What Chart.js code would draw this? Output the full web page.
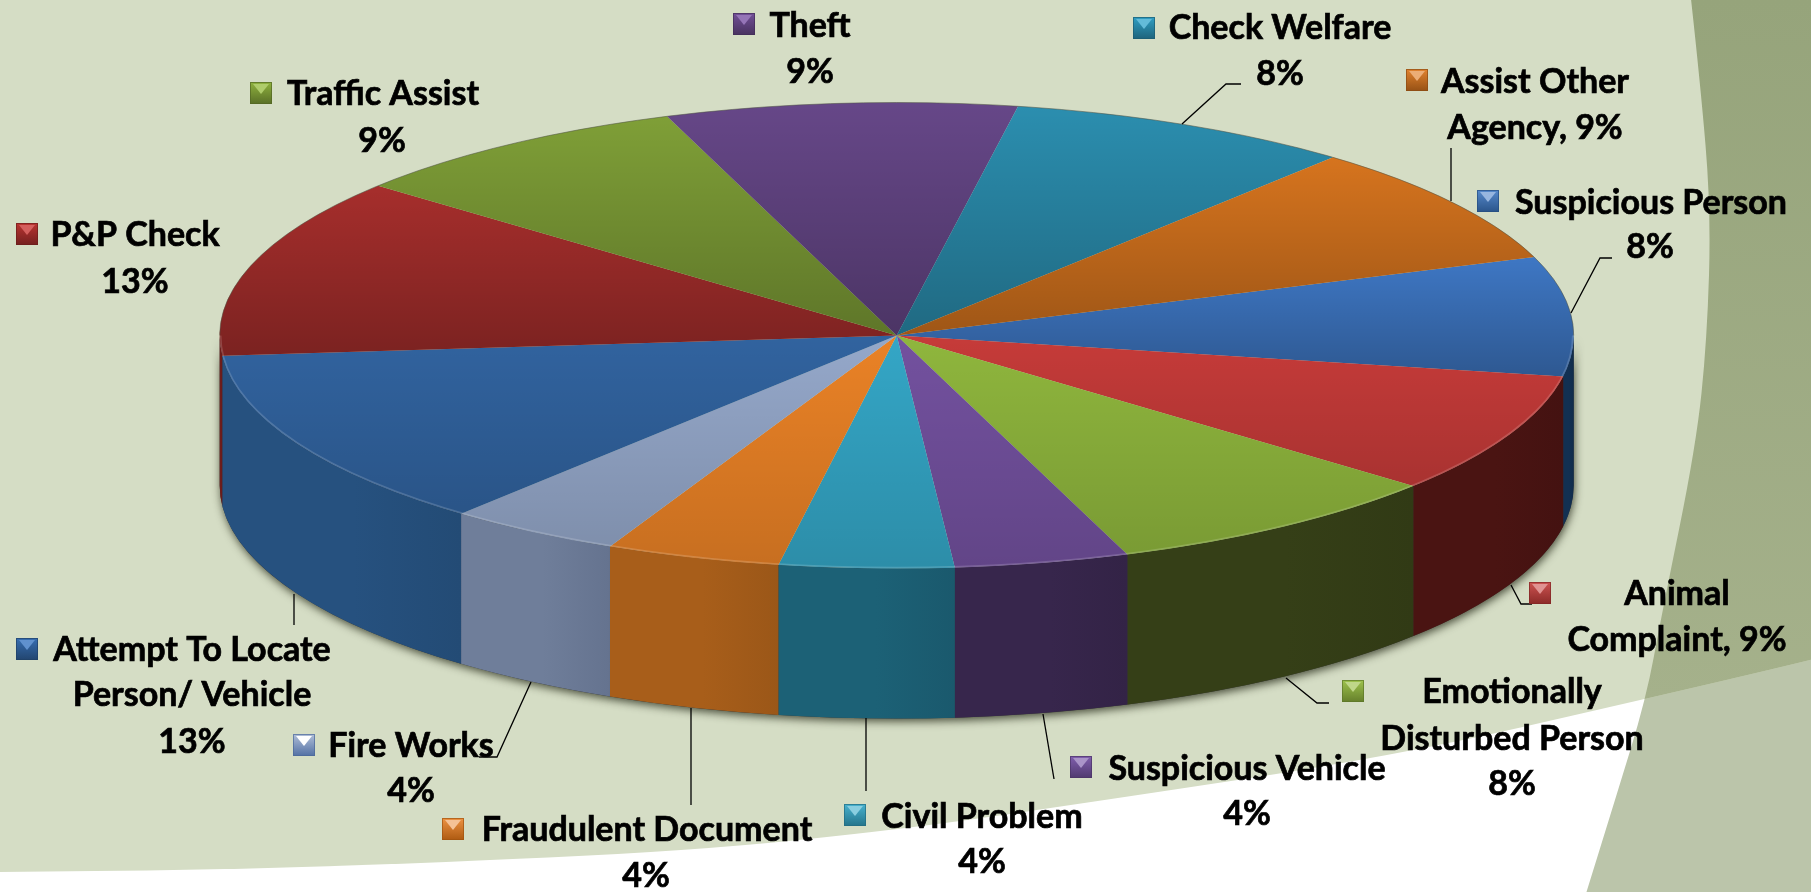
<!DOCTYPE html>
<html>
<head>
<meta charset="utf-8">
<title>Calls for service</title>
<script src="https://cdn.jsdelivr.net/npm/chart.js@4"></script>
<style>
  html, body { margin: 0; padding: 0; background: #fff; overflow: hidden; }
  canvas { display: block; }
</style>
</head>
<body>
<canvas id="pieChart" width="1811" height="892"></canvas>
<script>
/* ---------------- DATA ---------------- */

const categories = [
  "Suspicious Person", "Animal Complaint", "Emotionally Disturbed Person",
  "Suspicious Vehicle", "Civil Problem", "Fraudulent Document", "Fire Works",
  "Attempt To Locate Person/ Vehicle", "P&P Check", "Traffic Assist", "Theft",
  "Check Welfare", "Assist Other Agency"
];
const sliceValues = [8.45, 8.55, 8.45, 4.25, 4.25, 4.25, 4.25, 12.75, 12.75, 8.55, 8.55, 8.45, 8.55];
const labelLines = [
  ["Suspicious Person", "8%"],
  ["Animal", "Complaint, 9%"],
  ["Emotionally", "Disturbed Person", "8%"],
  ["Suspicious Vehicle", "4%"],
  ["Civil Problem", "4%"],
  ["Fraudulent Document", "4%"],
  ["Fire Works", "4%"],
  ["Attempt To Locate", "Person/ Vehicle", "13%"],
  ["P&P Check", "13%"],
  ["Traffic Assist", "9%"],
  ["Theft", "9%"],
  ["Check Welfare", "8%"],
  ["Assist Other", "Agency, 9%"]
];

/* ---------------- STYLE ---------------- */

const topColors = ["#3e77c4", "#c63b39", "#8fb63d", "#73519f", "#34a6c6", "#ea8226", "#95a8ca",
  "#31639f", "#a62e2c", "#7f9f37", "#664788", "#2b8eaf", "#d6741e"];
const sideColors = ["#123052", "#4a1412", "#353f17", "#37264c", "#1c6176", "#a85e1a", "#6f7e9a",
  "#26517f", "#6e1d1b", "#4a5c20", "#37264c", "#1c6176", "#a85e1a"];

const pieCenterX = 896.7, pieCenterY = 335.5, pieRadius = 677;
const squash = 233 / 677, depth = 150;

// marker top left, text line centres, leader line
const labelSpots = [
  { m: [1477, 190], t: [[1651, 203], [1650, 247]], l: [[1612, 258], [1600, 258], [1571, 313]] },
  { m: [1529, 582], t: [[1677, 594], [1677, 640]], l: [[1511, 585], [1521, 604], [1532, 604]] },
  { m: [1342, 680], t: [[1512, 692], [1512, 739], [1512, 784]], l: [[1286, 678], [1317, 703], [1329, 703]] },
  { m: [1070, 756], t: [[1247, 769], [1247, 814]], l: [[1043, 714], [1054, 779]] },
  { m: [844, 804], t: [[982, 817], [982, 862]], l: [[866, 718], [866, 791]] },
  { m: [442, 818], t: [[647, 830], [646, 876]], l: [[691, 708], [691, 805]] },
  { m: [293, 734], t: [[411, 746], [411, 791]], l: [[531, 682], [497, 757], [479, 757]] },
  { m: [16, 638], t: [[192, 650], [192, 695], [192, 742]], l: [[294, 594], [294, 625]] },
  { m: [16, 223], t: [[135, 235], [135, 282]], l: [] },
  { m: [250, 82], t: [[383, 94], [382, 141]], l: [] },
  { m: [733, 13], t: [[810, 26], [810, 72]], l: [] },
  { m: [1133, 17], t: [[1280, 28], [1280, 74]], l: [[1241, 84], [1226, 84], [1182, 124]] },
  { m: [1406, 69], t: [[1535, 82], [1535, 128]], l: [[1451, 148], [1451, 201]] }
];

const waveEdge = [[-10, 872], [200, 870], [404, 864], [692, 851], [905, 829], [1079, 804],
  [1396, 756], [1645, 699], [1799, 663], [1830, 655]];
const bandEdge = [[1690, -10], [1700, 80], [1711, 210], [1707, 340], [1696, 446], [1662, 613],
  [1646, 699], [1615, 800], [1584, 900]];

/* ---------------- BACKGROUND ---------------- */

function smoothLine(ctx, pts) {
  ctx.lineTo(pts[0][0], pts[0][1]);
  for (let i = 1; i < pts.length - 1; i++) {
    const mx = (pts[i][0] + pts[i + 1][0]) / 2;
    const my = (pts[i][1] + pts[i + 1][1]) / 2;
    ctx.quadraticCurveTo(pts[i][0], pts[i][1], mx, my);
  }
  const last = pts[pts.length - 1];
  ctx.lineTo(last[0], last[1]);
}

function bandPath(ctx) {
  ctx.beginPath();
  ctx.moveTo(1830, -10);
  smoothLine(ctx, bandEdge);
  ctx.lineTo(1830, 900);
  ctx.closePath();
}

function drawBackground(ctx) {
  ctx.fillStyle = "#ffffff";
  ctx.fillRect(0, 0, 1811, 892);
  bandPath(ctx);
  ctx.fillStyle = "#bbc5aa";
  ctx.fill();

  ctx.save();
  ctx.beginPath();
  ctx.moveTo(-10, -10);
  ctx.lineTo(1830, -10);
  ctx.lineTo(1830, 655);
  smoothLine(ctx, waveEdge.slice().reverse());
  ctx.closePath();
  ctx.clip();
  ctx.fillStyle = "#d5ddc5";
  ctx.fillRect(0, 0, 1811, 892);
  const g = ctx.createLinearGradient(0, 0, 0, 700);
  g.addColorStop(0, "#96a47b");
  g.addColorStop(1, "#a5b18b");
  bandPath(ctx);
  ctx.fillStyle = g;
  ctx.fill();
  ctx.restore();
}

/* ---------------- PIE ---------------- */

function sliceBounds(arc) {
  let top = Infinity, bottom = -Infinity;
  const ys = [arc.y];
  for (let i = 0; i <= 12; i++) {
    const a = arc.startAngle + (arc.endAngle - arc.startAngle) * i / 12;
    ys.push(arc.y + Math.sin(a) * arc.outerRadius);
  }
  ys.forEach(y => { top = Math.min(top, y); bottom = Math.max(bottom, y); });
  return { top, bottom };
}

function sidePath(ctx, arc, a0, a1) {
  const ry = arc.outerRadius * squash;
  ctx.beginPath();
  ctx.ellipse(arc.x, arc.y, arc.outerRadius, ry, 0, a0, a1);
  ctx.ellipse(arc.x, arc.y + depth, arc.outerRadius, ry, 0, a1, a0, true);
  ctx.closePath();
}

function drawSides(ctx, arcs) {
  const first = arcs[0];
  // soft shadow under the whole wall
  ctx.save();
  ctx.shadowColor = "rgba(30,34,16,0.75)";
  ctx.shadowBlur = 9;
  ctx.shadowOffsetY = 3;
  ctx.shadowOffsetX = 1;
  sidePath(ctx, first, 0, Math.PI);
  ctx.fillStyle = "#333";
  ctx.fill();
  ctx.restore();

  arcs.forEach((arc, i) => {
    const a0 = Math.max(arc.startAngle, 0);
    const a1 = Math.min(arc.endAngle, Math.PI);
    if (a1 <= a0) return;
    const x0 = arc.x + Math.cos(a0) * arc.outerRadius;
    const x1 = arc.x + Math.cos(a1) * arc.outerRadius;
    const g = ctx.createLinearGradient(x1, 0, x0, 0);
    g.addColorStop(0, sideColors[i]);
    g.addColorStop(0.55, sideColors[i]);
    g.addColorStop(1, Chart.helpers.color(sideColors[i]).darken(0.08).rgbString());
    sidePath(ctx, arc, a0, a1);
    ctx.fillStyle = g;
    ctx.fill();
  });
}

function drawTops(ctx, arcs) {
  arcs.forEach(arc => {
    ctx.save();
    ctx.translate(0, arc.y);
    ctx.scale(1, squash);
    ctx.translate(0, -arc.y);
    arc.draw(ctx);

    // each slice darkens towards the bottom of its own box, the front ones less
    const b = sliceBounds(arc);
    const mid = (arc.startAngle + arc.endAngle) / 2;
    const g = ctx.createLinearGradient(0, b.top, 0, b.bottom);
    g.addColorStop(0, "rgba(0,0,0,0)");
    g.addColorStop(1, Math.sin(mid) > 0.2 ? "rgba(0,0,0,0.15)" : "rgba(0,0,0,0.26)");
    ctx.beginPath();
    ctx.moveTo(arc.x, arc.y);
    ctx.arc(arc.x, arc.y, arc.outerRadius, arc.startAngle, arc.endAngle);
    ctx.closePath();
    ctx.fillStyle = g;
    ctx.fill();
    ctx.restore();
  });

  // rim: light on the front edge, grey on the back edge
  const first = arcs[0];
  const ry = first.outerRadius * squash;
  ctx.lineWidth = 1.5;
  ctx.strokeStyle = "rgba(255,255,255,0.16)";
  ctx.beginPath();
  ctx.ellipse(first.x, first.y, first.outerRadius - 1, ry - 1, 0, 0, Math.PI);
  ctx.stroke();
  ctx.lineWidth = 1;
  ctx.strokeStyle = "rgba(80,84,70,0.55)";
  ctx.beginPath();
  ctx.ellipse(first.x, first.y, first.outerRadius, ry, 0, Math.PI, Math.PI * 2);
  ctx.stroke();
}

/* ---------------- LABELS ---------------- */

function drawMarker(ctx, x, y, color) {
  const w = 22, h = 22;
  const c = Chart.helpers.color;
  const g = ctx.createLinearGradient(0, y, 0, y + h);
  g.addColorStop(0, c(color).lighten(0.12).rgbString());
  g.addColorStop(1, c(color).darken(0.3).rgbString());
  ctx.fillStyle = g;
  ctx.fillRect(x, y, w, h);
  ctx.fillStyle = c(color).lighten(0.45).rgbString();
  ctx.beginPath();
  ctx.moveTo(x + 3, y + 2);
  ctx.lineTo(x + w - 3, y + 2);
  ctx.lineTo(x + w / 2, y + h * 0.55);
  ctx.closePath();
  ctx.fill();
  ctx.strokeStyle = c(color).darken(0.35).alpha(0.7).rgbString();
  ctx.lineWidth = 1;
  ctx.strokeRect(x + 0.5, y + 0.5, w - 1, h - 1);
}

function drawLabels(ctx) {
  ctx.strokeStyle = "#000";
  ctx.lineWidth = 1.3;
  labelSpots.forEach(spot => {
    if (!spot.l.length) return;
    ctx.beginPath();
    spot.l.forEach((p, i) => i ? ctx.lineTo(p[0], p[1]) : ctx.moveTo(p[0], p[1]));
    ctx.stroke();
  });

  ctx.font = "bold 34px Lato, 'Open Sans', sans-serif";
  ctx.textAlign = "center";
  ctx.textBaseline = "middle";
  labelSpots.forEach((spot, i) => {
    drawMarker(ctx, spot.m[0], spot.m[1], topColors[i]);
    ctx.fillStyle = "#000";
    ctx.strokeStyle = "#000";
    ctx.lineWidth = 0.7;
    labelLines[i].forEach((line, j) => {
      ctx.fillText(line, spot.t[j][0], spot.t[j][1]);
      ctx.strokeText(line, spot.t[j][0], spot.t[j][1]);
    });
  });
}

/* ---------------- CHART ---------------- */

const piePlugin = {
  id: "flatPie",
  beforeDraw(chart) {
    drawBackground(chart.ctx);
  },
  beforeDatasetDraw(chart) {
    const arcs = chart.getDatasetMeta(0).data;
    drawSides(chart.ctx, arcs);
    drawTops(chart.ctx, arcs);
    return false;
  },
  afterDraw(chart) {
    drawLabels(chart.ctx);
  }
};

new Chart(document.getElementById("pieChart"), {
  type: "pie",
  plugins: [piePlugin],
  data: {
    labels: categories,
    datasets: [{
      data: sliceValues,
      backgroundColor: topColors,
      borderWidth: 0,
      radius: pieRadius
    }]
  },
  options: {
    responsive: false,
    animation: false,
    rotation: 70.3,
    layout: {
      padding: { right: 1811 - 2 * pieCenterX, bottom: 892 - 2 * pieCenterY }
    },
    plugins: {
      legend: { display: false },
      tooltip: { enabled: false }
    }
  }
});
</script>
</body>
</html>
